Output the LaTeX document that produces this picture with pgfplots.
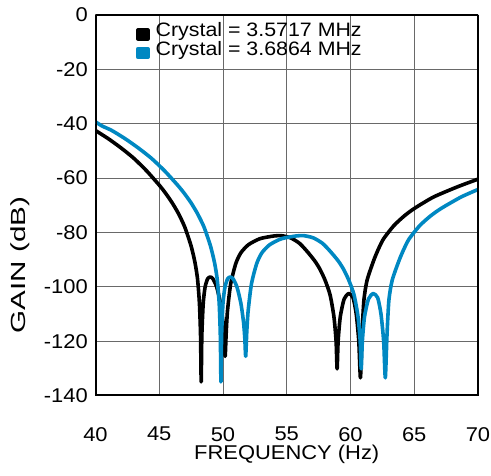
\documentclass[border=0pt]{standalone}
\usepackage{fontspec}
\setmainfont{Liberation Sans}[FakeStretch=1.1]
\newfontfamily\ylabfont{Liberation Sans}[FakeStretch=1.45]
\usepackage{pgfplots}
\pgfplotsset{compat=1.18}
\definecolor{cblue}{RGB}{0,136,194}
\definecolor{gridgray}{RGB}{105,105,105}
\begin{document}
\begin{tikzpicture}
\useasboundingbox (-95.5bp,-80.5bp) rectangle (395.5bp,395.5bp);
\begin{axis}[
  scale only axis, width=382.5bp, height=380.5bp,
  xmin=40, xmax=70, ymin=-140, ymax=0,
  xtick={40,45,50,55,60,65,70},
  ytick={-140,-120,-100,-80,-60,-40,-20,0},
  xticklabels={40,45,50,55,60,65,70},
  yticklabels={-140,-120,-100,-80,-60,-40,-20,0},
  grid=major,
  major grid style={gridgray, line width=0.9bp},
  major tick length=0pt,
  tick label style={font=\fontsize{20}{20}\selectfont},
  xticklabel style={anchor=north, inner sep=0pt, yshift=-31.5bp},
  yticklabel style={anchor=east, inner sep=0pt, xshift=-7.5bp},
  xlabel={FREQUENCY (Hz)},
  ylabel={GAIN (dB)},
  xlabel style={font=\fontsize{20}{20}\selectfont, at={(rel axis cs:0.5,0)}, anchor=north, inner sep=0pt, yshift=-49.5bp},
  ylabel style={font=\ylabfont\fontsize{20.5}{20.5}\selectfont, at={([xshift=-75.5bp]rel axis cs:0,0.343)}, anchor=center, inner sep=0pt},
  legend style={at={(rel axis cs:0.106,0.977)}, anchor=north west, draw=none, fill=none,
    inner sep=0pt, outer sep=0pt, font=\fontsize{19.5}{19.5}\selectfont, row sep=1.5bp,
    nodes={inner sep=0pt, text height=13bp, text depth=4bp},
    /tikz/every odd column/.append style={column sep=6bp}},
  legend cell align=left,
  legend image code/.code={\fill[#1] (0bp,-6.5bp) rectangle (10bp,2bp);},
  every axis plot/.append style={line width=3.6bp, line join=round, line cap=round},
]
\addplot[black, smooth, tension=0.4] coordinates {
(40.0,-42.5) (41.0,-45.5) (42.0,-48.9) (43.0,-52.7) (44.0,-57.3) (45.0,-62.6)
(45.5,-65.6) (46.0,-69.0) (46.5,-73.0) (47.0,-78.0) (47.5,-85.0) (47.8,-91.0)
(48.0,-97.0) (48.15,-106) (48.24,-118) (48.29,-135) (48.34,-118) (48.45,-106)
(48.6,-100) (48.8,-97) (49.0,-96.4) (49.2,-97) (49.5,-100) (49.8,-106)
(50.0,-113) (50.1,-119) (50.17,-125.6) (50.25,-117) (50.35,-109) (50.6,-99)
(51.0,-91.5) (51.4,-87.5) (52.0,-84.5) (52.9,-82.3) (54.0,-81.3) (54.6,-81.2)
(55.3,-82.0) (56.0,-84.0) (56.6,-87.0) (57.2,-90.5) (57.6,-93.5) (58.0,-97.5)
(58.4,-103) (58.7,-111) (58.87,-120) (58.95,-130.2) (59.03,-120) (59.2,-111)
(59.5,-104.5) (59.86,-102.5) (60.2,-104) (60.45,-110) (60.65,-120) (60.78,-133.5)
(60.9,-118) (61.05,-105) (61.3,-97.6) (61.82,-90.3) (62.2,-86.0) (62.6,-82.3)
(63.4,-77.5) (64.2,-74.0) (65.0,-71.2) (66.5,-67.0) (68.4,-63.2) (70.0,-60.4)
};
\addlegendentry{Crystal = 3.5717 MHz}
\addplot[cblue, smooth, tension=0.4] coordinates {
(40.0,-39.3) (40.5,-40.8) (41.28,-42.5) (42.32,-45.5) (43.35,-48.9) (44.38,-52.7)
(45.41,-57.3) (46.44,-62.6) (46.96,-65.6) (47.48,-69.0) (47.99,-73.0) (48.51,-78.0)
(49.02,-85.0) (49.33,-91.0) (49.54,-97.0) (49.70,-106) (49.79,-118) (49.84,-135)
(49.89,-118) (50.00,-106) (50.16,-100) (50.37,-97) (50.57,-96.4) (50.78,-97)
(51.09,-100) (51.40,-106) (51.61,-113) (51.71,-119) (51.78,-125.6) (51.86,-117)
(51.97,-109) (52.23,-99) (52.64,-91.5) (53.05,-87.5) (53.67,-84.5) (54.60,-82.3)
(55.73,-81.3) (56.35,-81.2) (57.08,-82.0) (57.80,-84.0) (58.42,-87.0) (59.04,-90.5)
(59.45,-93.5) (59.86,-97.5) (60.28,-103) (60.59,-111) (60.76,-120) (60.84,-130.2)
(60.93,-120) (61.10,-111) (61.41,-104.5) (61.78,-102.5) (62.13,-104) (62.39,-110)
(62.60,-120) (62.73,-133.5) (62.86,-118) (63.01,-105) (63.27,-97.6) (63.81,-90.3)
(64.20,-86.0) (64.61,-82.3) (65.43,-77.5) (66.26,-74.0) (67.10,-71.2) (68.66,-67.0)
(70.0,-64.2)
};
\addlegendentry{Crystal = 3.6864 MHz}
\draw[line width=2.6bp] (rel axis cs:0,0) rectangle (rel axis cs:1,1);
\end{axis}
\end{tikzpicture}
\end{document}
